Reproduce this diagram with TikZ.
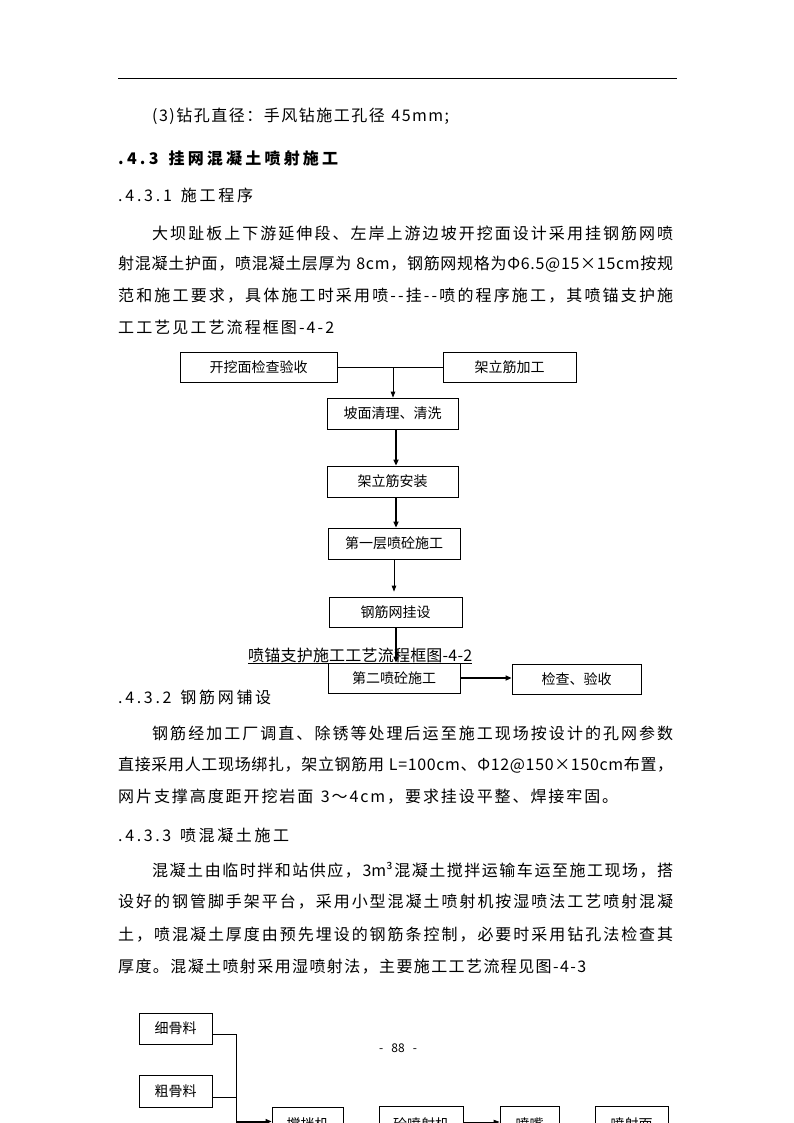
\documentclass[tikz,border=0pt]{standalone}
\usepackage{fontspec}
\setmainfont{Noto Sans CJK SC}
\usetikzlibrary{arrows.meta,calc}
\ExplSyntaxOn
\NewDocumentCommand\jl{m m}{\makebox[#1][s]{\tl_map_inline:nn{#2}{##1\hfil}\unskip}}
\ExplSyntaxOff
\begin{document}
\begin{tikzpicture}[x=1pt,y=-1pt,
  box/.style={draw, line width=0.8pt, inner sep=0pt, font=\fontsize{14}{16}\selectfont},
  tx/.style={anchor=west, inner sep=0pt, font=\fontsize{16}{18}\selectfont},
  hd/.style={anchor=west, inner sep=0pt, font=\fontsize{16}{18}\selectfont\bfseries},
  ln/.style={line width=0.8pt},
  arr/.style={-{Triangle[length=6pt,width=4.5pt]}, line width=0.8pt},
  tarr/.style={-{Triangle[length=6pt,width=5pt]}, line width=2pt}]
\clip (0,0) rectangle (794,1123);
\fill[white] (0,0) rectangle (794,1123);
% header rule
\coordinate (hl) at (118,78);
\coordinate (hr) at (677,78);
\draw[ln] (hl) -- (hr);
% text
\node[tx] (t1) at (152,116) {\jl{297pt}{(3)钻孔直径：手风钻施工孔径~45mm;}};
\node[hd] (h1) at (118,158) {\jl{220pt}{.4.3~挂网混凝土喷射施工}};
\node[tx] (h2) at (118,195) {\jl{135pt}{.4.3.1~施工程序}};
\node[tx] (p1) at (152,233) {\jl{521pt}{大坝趾板上下游延伸段、左岸上游边坡开挖面设计采用挂钢筋网喷}};
\node[tx] (p2) at (118,264.5) {\jl{555pt}{射混凝土护面，喷混凝土层厚为~8cm，钢筋网规格为Φ6.5@15×15cm按规}};
\node[tx] (p3) at (118,296) {\jl{555pt}{范和施工要求，具体施工时采用喷--挂--喷的程序施工，其喷锚支护施}};
\node[tx] (p4) at (118,327) {\jl{216pt}{工工艺见工艺流程框图-4-2}};
% flowchart 4-2
\node[box, minimum width=157pt, minimum height=30pt] (n1) at (258.5,367) {开挖面检查验收};
\node[box, minimum width=133pt, minimum height=30pt] (n2) at (509.5,367) {架立筋加工};
\node[box, minimum width=131pt, minimum height=31pt] (n3) at (392.5,413.5) {坡面清理、清洗};
\node[box, minimum width=131pt, minimum height=31pt] (n4) at (392.5,481.5) {架立筋安装};
\node[box, minimum width=132pt, minimum height=31pt] (n5) at (394,543.5) {第一层喷砼施工};
\node[box, minimum width=133pt, minimum height=30pt] (n6) at (395.5,612) {钢筋网挂设};
\node[box, minimum width=132pt, minimum height=30pt] (n7) at (394,678) {第二喷砼施工};
\node[box, minimum width=129pt, minimum height=30pt] (n8) at (576.5,679) {检查、验收};
\coordinate (j) at (393,367);
\draw[ln] (n1.east) -- (n2.west);
\draw[arr] (j) -- (j |- n3.north);
\draw[tarr] ([xshift=3.5pt]n3.south) -- ([xshift=3.5pt]n4.north);
\draw[tarr] ([xshift=3.5pt]n4.south) -- ([xshift=2pt]n5.north);
\draw[arr, shorten >=5pt] (n5.south) -- (n5.south |- n6.north);
\draw[tarr] ([xshift=0.5pt]n6.south) -- ([xshift=2pt]n7.north);
\draw[tarr] (n7.east) -- (n7.east -| n8.west);
\node[anchor=west, inner sep=0pt, font=\fontsize{16}{18}\selectfont] (cap) at (248,655) {\jl{224pt}{喷锚支护施工工艺流程框图-4-2}};
\draw[ln] ([yshift=-2pt]cap.base west) -- ([yshift=-2pt]cap.base east);
% section 4.3.2
\node[tx] (h3) at (118,697) {\jl{153pt}{.4.3.2~钢筋网铺设}};
\node[tx] (q1) at (152,733) {\jl{521pt}{钢筋经加工厂调直、除锈等处理后运至施工现场按设计的孔网参数}};
\node[tx] (q2) at (118,765) {\jl{555pt}{直接采用人工现场绑扎，架立钢筋用~L=100cm、Φ12@150×150cm布置，}};
\node[tx] (q3) at (118,797) {\jl{500pt}{网片支撑高度距开挖岩面~3～4cm，要求挂设平整、焊接牢固。}};
% section 4.3.3
\node[tx] (h4) at (118,835) {\jl{171pt}{.4.3.3~喷混凝土施工}};
\node[tx] (r1) at (152,870) {\jl{521pt}{混凝土由临时拌和站供应，{3m³}混凝土搅拌运输车运至施工现场，搭}};
\node[tx] (r2) at (118,902) {\jl{555pt}{设好的钢管脚手架平台，采用小型混凝土喷射机按湿喷法工艺喷射混凝}};
\node[tx] (r3) at (118,935) {\jl{555pt}{土，喷混凝土厚度由预先埋设的钢筋条控制，必要时采用钻孔法检查其}};
\node[tx] (r4) at (118,967) {\jl{468pt}{厚度。混凝土喷射采用湿喷射法，主要施工工艺流程见图-4-3}};
% page number
\node[inner sep=0pt, font=\fontsize{12}{14}\selectfont] (pg) at (398,1048) {\jl{38pt}{-~{88}~-}};
% flowchart 4-3 (cut by page edge)
\node[box, minimum width=73pt, minimum height=31pt] (b1) at (175.5,1028.5) {细骨料};
\node[box, minimum width=73pt, minimum height=32pt] (b2) at (175.5,1091) {粗骨料};
\node[box, minimum width=71pt, minimum height=34pt] (b3) at (307.5,1124) {搅拌机};
\node[box, minimum width=84pt, minimum height=36pt] (b4) at (421,1124) {砼喷射机};
\node[box, minimum width=59pt, minimum height=36pt] (b5) at (529.5,1124) {喷嘴};
\node[box, minimum width=73pt, minimum height=36pt] (b6) at (631.5,1124) {喷射面};
\coordinate (v) at (236,1140);
\coordinate (e1) at ([yshift=-5.5pt]b1.east);
\coordinate (e2) at ([yshift=-6pt]b2.east);
\coordinate (q) at (236,1121.5);
\draw[ln] (e1) -| (v);
\draw[ln] (e2) -- (e2 -| v);
\draw[tarr] (q) -- (q -| b3.west);
\coordinate (s3) at ([yshift=-1.5pt]b3.east);
\draw[arr] (s3) -- (s3 -| b4.west);
\coordinate (s4) at ([yshift=2pt]b4.east);
\draw[arr] (s4) -- (s4 -| b5.west);
\end{tikzpicture}
\end{document}
